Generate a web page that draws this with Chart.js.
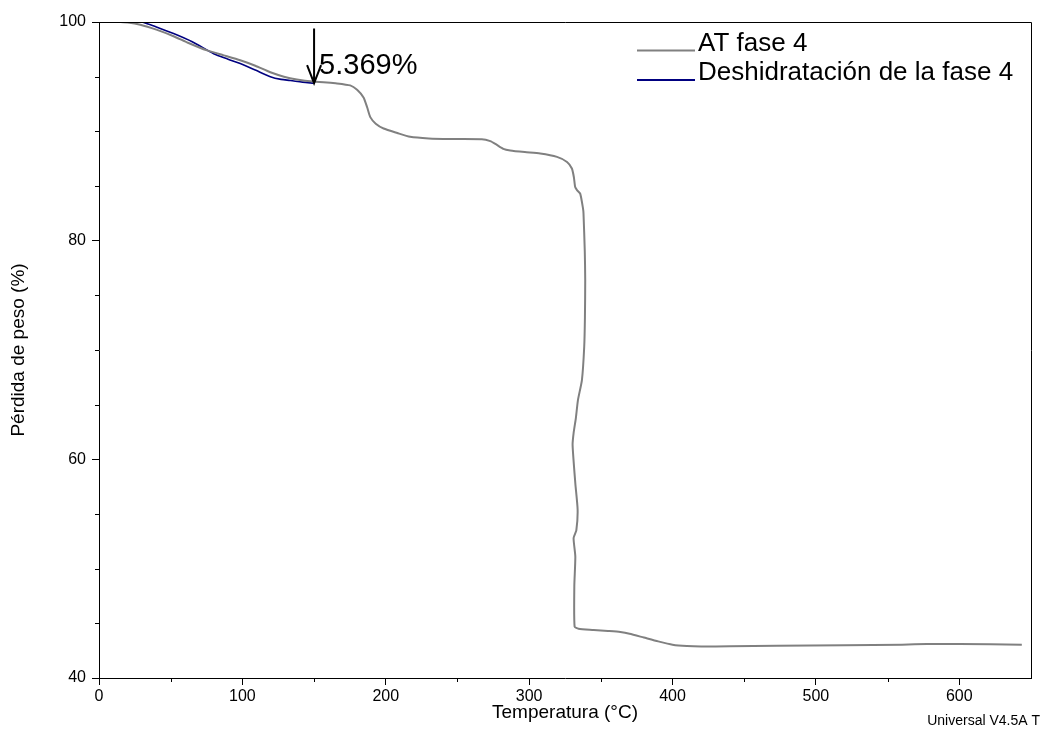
<!DOCTYPE html>
<html>
<head>
<meta charset="utf-8">
<title>AT fase 4</title>
<script src="https://cdn.jsdelivr.net/npm/chart.js@4.4.1/dist/chart.umd.min.js"></script>
<style>
	html, body { margin: 0; padding: 0; background: #fff; }
	canvas { display: block; }
</style>
</head>
<body>
<canvas id="graficoTga" width="1043" height="742"></canvas>
<script>
// temperatura (°C) e perda de peso (%)
var temperaturaAT = [13.5, 20, 28.8, 40, 52, 62, 75.3, 87, 98.5, 109, 119.5, 129, 138, 149.4, 156.6, 165, 175.2, 180, 184.5, 187, 189.2, 193, 198.5, 208, 217, 230, 245, 267, 272.9, 277, 282, 286.8, 297, 307.7, 319.4, 326.4, 329.8, 331.2, 332.1, 333.5, 335.6, 337.5, 337.9, 338.8, 339.1, 338.9, 338.4, 336.8, 334, 332.6, 331, 330.3, 332.2, 333.8, 332.9, 331, 332.2, 331.5, 331.7, 334.4, 345, 355, 363.6, 370, 380, 390, 400, 410, 420, 440, 472.8, 520, 560, 577.4, 600, 643.6];
var pesoAT = [100, 99.95, 99.75, 99.3, 98.7, 98.1, 97.4, 96.95, 96.5, 96.0, 95.4, 95.0, 94.75, 94.55, 94.5, 94.4, 94.2, 93.8, 93.1, 92.2, 91.3, 90.7, 90.26, 89.85, 89.5, 89.35, 89.3, 89.28, 89.1, 88.8, 88.4, 88.25, 88.1, 87.97, 87.66, 87.2, 86.6, 85.8, 84.9, 84.6, 84.3, 83.0, 82.5, 79, 76.4, 73, 70.3, 67.25, 65.4, 63.8, 62.4, 61.3, 57.8, 55.4, 53.5, 52.8, 51.1, 48.4, 44.7, 44.5, 44.4, 44.3, 44.2, 44.05, 43.7, 43.35, 43.05, 42.92, 42.88, 42.9, 42.96, 43.0, 43.05, 43.1, 43.1, 43.05];

var temperaturaDesidratacao = [30, 40, 52, 65, 80, 90, 98.5, 109, 119.5, 127, 133.4, 142, 149.7];
var pesoDesidratacao = [100, 99.55, 98.95, 98.2, 97.1, 96.6, 96.2, 95.6, 95.0, 94.75, 94.65, 94.5, 94.4];

var rotulos = ['AT fase 4', 'Deshidratación de la fase 4'];
var ticksX = [0, 100, 200, 300, 400, 500, 600];
var ticksXMenores = [50, 150, 250, 350, 450, 550];
var ticksY = [40, 60, 80, 100];
var ticksYMenores = [45, 50, 55, 65, 70, 75, 85, 90, 95];

// seta da perda de agua
var setaTemperatura = 150;
var setaTopo = 99.4;
var setaPonta = 94.4;
var textoPerda = '5.369%';

var fonte = '"Liberation Sans", Arial, sans-serif';

function pontos(xs, ys) {
	return xs.map(function(x, i) { return { x: x, y: ys[i] }; });
}

var decoracoes = {
	id: 'decoracoes',
	afterDraw: function(chart) {
		var ctx = chart.ctx;
		var area = chart.chartArea;
		var sx = chart.scales.x;
		var sy = chart.scales.y;

		ctx.save();
		ctx.strokeStyle = '#000';
		ctx.lineWidth = 1;

		// moldura superior e direita
		ctx.beginPath();
		ctx.moveTo(area.left, area.top + 0.5);
		ctx.lineTo(area.right + 0.5, area.top + 0.5);
		ctx.lineTo(area.right + 0.5, area.bottom);
		ctx.stroke();

		// ticks menores
		ctx.beginPath();
		ticksXMenores.forEach(function(v) {
			var px = Math.round(sx.getPixelForValue(v)) + 0.5;
			ctx.moveTo(px, area.bottom);
			ctx.lineTo(px, area.bottom + 4);
		});
		ticksYMenores.forEach(function(v) {
			var py = Math.round(sy.getPixelForValue(v)) + 0.5;
			ctx.moveTo(area.left - 4, py);
			ctx.lineTo(area.left, py);
		});
		ctx.stroke();

		// seta
		var ax = sx.getPixelForValue(setaTemperatura);
		var ay1 = sy.getPixelForValue(setaTopo);
		var ay2 = sy.getPixelForValue(setaPonta);
		ctx.lineWidth = 2;
		ctx.beginPath();
		ctx.moveTo(ax, ay1);
		ctx.lineTo(ax, ay2);
		ctx.moveTo(ax - 7, ay2 - 18);
		ctx.lineTo(ax, ay2);
		ctx.lineTo(ax + 7, ay2 - 18);
		ctx.stroke();

		ctx.fillStyle = '#000';
		ctx.font = '29px ' + fonte;
		ctx.textBaseline = 'alphabetic';
		ctx.textAlign = 'left';
		ctx.fillText(textoPerda, ax + 5, ay2 - 9);

		// legenda
		ctx.font = '26px ' + fonte;
		chart.data.datasets.forEach(function(ds, i) {
			var ly = 50.5 + i * 29.5;
			ctx.strokeStyle = ds.borderColor;
			ctx.lineWidth = 2;
			ctx.beginPath();
			ctx.moveTo(637, ly);
			ctx.lineTo(695, ly);
			ctx.stroke();
			ctx.fillText(ds.label, 698, ly);
		});

		ctx.font = '14px ' + fonte;
		ctx.textAlign = 'right';
		ctx.fillText('Universal V4.5A T', 1040, 725);
		ctx.restore();
	}
};

var grafico = new Chart(document.getElementById('graficoTga').getContext('2d'), {
	type: 'line',
	data: {
		datasets: [{
			label: rotulos[0],
			data: pontos(temperaturaAT, pesoAT),
			borderColor: '#808080',
			borderWidth: 2,
			pointRadius: 0,
			tension: 0.2,
			fill: false
		}, {
			label: rotulos[1],
			data: pontos(temperaturaDesidratacao, pesoDesidratacao),
			borderColor: '#000080',
			borderWidth: 1.6,
			pointRadius: 0,
			tension: 0.3,
			fill: false
		}]
	},
	options: {
		responsive: false,
		animation: false,
		devicePixelRatio: 1,
		layout: { padding: { top: 22, right: 12, left: 0, bottom: 0 } },
		plugins: {
			legend: { display: false },
			tooltip: { enabled: false }
		},
		scales: {
			x: {
				type: 'linear',
				min: 0,
				max: 650,
				afterBuildTicks: function(scale) {
					scale.ticks = ticksX.map(function(v) { return { value: v }; });
				},
				afterFit: function(scale) { scale.height = 64; },
				grid: { drawOnChartArea: false, color: '#000', tickLength: 7 },
				border: { color: '#000', width: 1 },
				ticks: { color: '#000', padding: 2, maxRotation: 0, font: { family: fonte, size: 16 } },
				title: {
					display: true,
					text: 'Temperatura (°C)',
					color: '#000',
					font: { family: fonte, size: 19 },
					padding: { top: 0, bottom: 18 }
				}
			},
			y: {
				type: 'linear',
				min: 40,
				max: 100,
				afterBuildTicks: function(scale) {
					scale.ticks = ticksY.map(function(v) { return { value: v }; });
				},
				afterFit: function(scale) { scale.width = 99; },
				grid: { drawOnChartArea: false, color: '#000', tickLength: 7 },
				border: { color: '#000', width: 1 },
				ticks: { color: '#000', padding: 6, font: { family: fonte, size: 16 } },
				title: {
					display: true,
					text: 'Pérdida de peso (%)',
					color: '#000',
					font: { family: fonte, size: 19 },
					padding: { top: 7, bottom: 0 }
				}
			}
		}
	},
	plugins: [decoracoes]
});
</script>
</body>
</html>
